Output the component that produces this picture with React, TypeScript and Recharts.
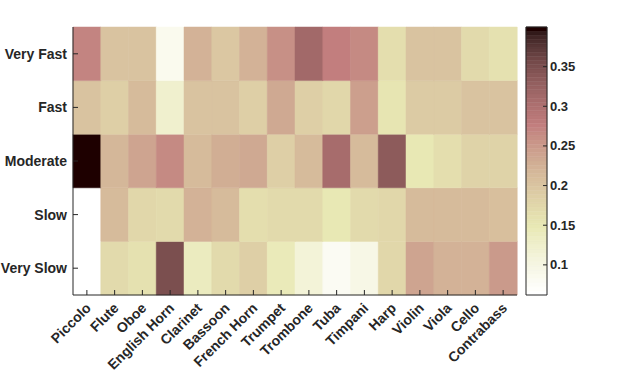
import { Bar, BarChart, Cell, ComposedChart, ReferenceArea, XAxis, YAxis } from 'recharts';

const instruments = [
  'Piccolo', 'Flute', 'Oboe', 'English Horn', 'Clarinet', 'Bassoon', 'French Horn', 'Trumpet',
  'Trombone', 'Tuba', 'Timpani', 'Harp', 'Violin', 'Viola', 'Cello', 'Contrabass',
];
// rows, bottom to top
const tempos = ['Very Slow', 'Slow', 'Moderate', 'Fast', 'Very Fast'];

// share of each tempo per instrument (columns add up to ~1)
const veryFast = [0.27, 0.2, 0.2, 0.085, 0.222, 0.197, 0.222, 0.262, 0.315, 0.275, 0.265, 0.163, 0.2, 0.2, 0.172, 0.158];
const fast = [0.2, 0.187, 0.215, 0.123, 0.203, 0.2, 0.187, 0.235, 0.185, 0.175, 0.245, 0.152, 0.193, 0.193, 0.2, 0.2];
const moderate = [0.4, 0.218, 0.238, 0.265, 0.21, 0.23, 0.235, 0.188, 0.215, 0.31, 0.215, 0.332, 0.147, 0.163, 0.18, 0.18];
const slow = [0.062, 0.215, 0.177, 0.17, 0.222, 0.21, 0.163, 0.168, 0.172, 0.15, 0.172, 0.178, 0.21, 0.21, 0.21, 0.205];
const verySlow = [0.062, 0.17, 0.16, 0.352, 0.137, 0.172, 0.185, 0.145, 0.11, 0.08, 0.095, 0.178, 0.238, 0.222, 0.222, 0.25];

const colorTicks = [0.1, 0.15, 0.2, 0.25, 0.3, 0.35];

const rows = [verySlow, slow, moderate, fast, veryFast];
const keys = ['vs', 's', 'm', 'f', 'vf'];

const all = rows.flat();
const vmin = Math.min(...all);
const vmax = Math.max(...all);

const INK = '#262626';
const FONT = '"Liberation Sans", Arial, Helvetica, sans-serif';
const LEVELS = 64;

// MATLAB pink(64), index 0 = black
function pink(i: number) {
  const gray = i / (LEVELS - 1);
  const n = 24;
  const r = i < n ? (i + 1) / n : 1;
  const g = i < n ? 0 : i < 2 * n ? (i - n + 1) / n : 1;
  const b = i < 2 * n ? 0 : (i - 2 * n + 1) / (LEVELS - 2 * n);
  const c = (h: number) => Math.round(Math.sqrt((2 * gray + h) / 3) * 255);
  return `rgb(${c(r)},${c(g)},${c(b)})`;
}

// flipped colormap: high values dark
function colorFor(v: number) {
  const k = Math.min(LEVELS - 1, Math.floor(((v - vmin) / (vmax - vmin)) * LEVELS));
  return pink(LEVELS - 1 - k);
}

const data = instruments.map((name, i) => {
  const row: Record<string, string | number> = { name, pos: i + 0.5 };
  keys.forEach((k) => (row[k] = 1));
  return row;
});

const cbSteps = Array.from({ length: LEVELS }, (_, i) => ({
  y1: vmin + ((vmax - vmin) * i) / LEVELS,
  y2: vmin + ((vmax - vmin) * (i + 1)) / LEVELS,
  fill: pink(LEVELS - 1 - i),
}));

const textStyle = { fontFamily: FONT, fontWeight: 700, fontSize: 14, fill: INK };

const BottomTick = ({ x, y, payload }: any) => (
  <g>
    <line x1={x} y1={y} x2={x} y2={y - 5} stroke={INK} />
    <text x={x + 5} y={y + 14} transform={`rotate(-45 ${x + 5} ${y + 14})`} textAnchor="end" {...textStyle}>
      {payload.value}
    </text>
  </g>
);

const TopTick = ({ x, y }: any) => <line x1={x} y1={y} x2={x} y2={y + 5} stroke={INK} />;

const LeftTick = ({ x, y, payload }: any) => (
  <g>
    <line x1={x} y1={y} x2={x + 5} y2={y} stroke={INK} />
    <text x={x - 6} y={y} dy="0.35em" textAnchor="end" {...textStyle}>
      {tempos[Math.floor(payload.value)]}
    </text>
  </g>
);

const RightTick = ({ x, y }: any) => <line x1={x} y1={y} x2={x - 5} y2={y} stroke={INK} />;

const ColorTick = ({ x, y, payload }: any) => (
  <g>
    <line x1={x} y1={y} x2={x - 4} y2={y} stroke={INK} />
    <text x={x + 3} y={y} dy="0.35em" textAnchor="start" {...textStyle} fontSize={13}>
      {payload.value}
    </text>
  </g>
);

export default function App() {
  return (
    <div style={{ position: 'absolute', left: 0, top: 0, width: 620, height: 373, background: '#fff' }}>
      <div style={{ position: 'absolute', left: 0, top: 0 }}>
        <BarChart
          width={530}
          height={373}
          data={data}
          margin={{ top: 27, right: 13, left: 0, bottom: 0 }}
          barCategoryGap={0}
          barGap={0}
        >
          <XAxis
            dataKey="name"
            type="category"
            height={78}
            tickSize={0}
            tickMargin={0}
            interval={0}
            tick={<BottomTick />}
            axisLine={{ stroke: INK }}
          />
          <XAxis
            xAxisId="top"
            orientation="top"
            type="number"
            domain={[0, 16]}
            allowDataOverflow
            ticks={data.map((d) => d.pos as number)}
            height={0}
            tickSize={0}
            tickMargin={0}
            tick={<TopTick />}
            axisLine={{ stroke: INK }}
          />
          <YAxis
            type="number"
            domain={[0, 5]}
            ticks={[0.5, 1.5, 2.5, 3.5, 4.5]}
            width={73}
            tickSize={0}
            tickMargin={0}
            tick={<LeftTick />}
            axisLine={{ stroke: INK }}
          />
          <YAxis
            yAxisId="right"
            orientation="right"
            type="number"
            domain={[0, 5]}
            allowDataOverflow
            ticks={[0.5, 1.5, 2.5, 3.5, 4.5]}
            width={0}
            tickSize={0}
            tickMargin={0}
            tick={<RightTick />}
            axisLine={{ stroke: INK }}
          />
          {keys.map((k, r) => (
            <Bar key={k} dataKey={k} stackId="grid" isAnimationActive={false}>
              {rows[r].map((v, i) => (
                <Cell key={i} fill={colorFor(v)} stroke={colorFor(v)} strokeWidth={0.5} />
              ))}
            </Bar>
          ))}
        </BarChart>
      </div>
      <div style={{ position: 'absolute', left: 0, top: 0 }}>
        <ComposedChart width={620} height={373} data={[{ x: 0 }]} margin={{ top: 27, right: 23, left: 526, bottom: 78 }}>
          <XAxis dataKey="x" hide />
          <YAxis
            orientation="right"
            type="number"
            domain={[vmin, vmax]}
            allowDataOverflow
            ticks={colorTicks}
            width={50}
            tickSize={0}
            tickMargin={0}
            tick={<ColorTick />}
            axisLine={false}
          />
          {cbSteps.map((s, i) => (
            <ReferenceArea key={i} y1={s.y1} y2={s.y2} fill={s.fill} fillOpacity={1} stroke={s.fill} strokeWidth={0.5} />
          ))}
          <ReferenceArea y1={vmin} y2={vmax} fill="none" stroke={INK} strokeWidth={1} />
        </ComposedChart>
      </div>
    </div>
  );
}
